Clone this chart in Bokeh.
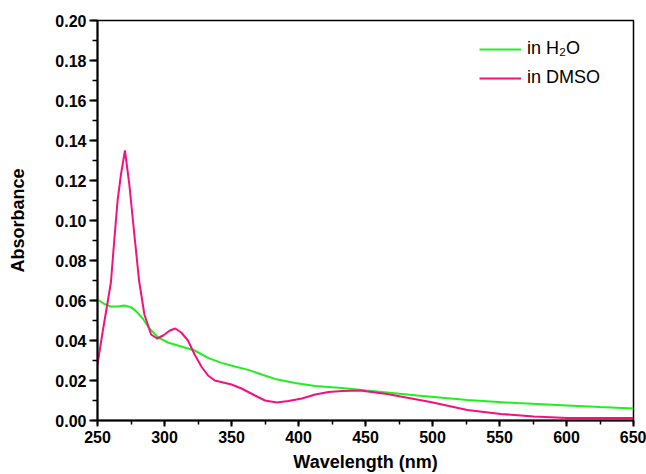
from bokeh.plotting import figure
from bokeh.models import Range1d, FixedTicker, NumeralTickFormatter, Legend, LegendItem
from bokeh.embed import file_html
from bokeh.resources import INLINE

# DMSO spectrum
dmso_x = [250, 253.75, 256, 260, 262.5, 265, 267.5, 270.5, 273.75, 277.5, 281, 285, 290,
          294.5, 299, 304, 308, 312.5, 317.5, 322.5, 327.5, 332.5, 337.5, 350, 357.5, 367.5,
          375, 383.75, 392.5, 402.5, 412.5, 422.5, 432.5, 446, 466, 498.5, 526, 551, 575.5,
          600.5, 625, 650]
dmso_y = [0.028, 0.044, 0.053, 0.069, 0.090, 0.110, 0.123, 0.135, 0.118, 0.093, 0.070, 0.053,
          0.043, 0.041, 0.0425, 0.045, 0.046, 0.044, 0.040, 0.033, 0.027, 0.0225, 0.020, 0.018,
          0.016, 0.0125, 0.010, 0.009, 0.0097, 0.011, 0.013, 0.0143, 0.0147, 0.015, 0.0133,
          0.0092, 0.0053, 0.0033, 0.002, 0.0012, 0.0012, 0.0013]

# H2O spectrum
h2o_x = [250, 255, 260, 265, 270, 275, 278.75, 283.75, 288.75, 295, 302.5, 312.5, 322.5,
         332.5, 342.5, 352.5, 362.5, 372.5, 382.5, 397.5, 412.5, 432.5, 451, 488.6, 526, 563,
         600.5, 625, 650]
h2o_y = [0.0605, 0.0583, 0.057, 0.057, 0.0575, 0.0567, 0.0547, 0.051, 0.046, 0.0417, 0.039,
         0.037, 0.035, 0.0313, 0.0288, 0.027, 0.0253, 0.023, 0.0208, 0.0187, 0.0173, 0.0163,
         0.015, 0.0125, 0.0103, 0.0087, 0.0075, 0.0067, 0.006]

x_ticks = [250, 300, 350, 400, 450, 500, 550, 600, 650]
y_ticks = [0.00, 0.02, 0.04, 0.06, 0.08, 0.10, 0.12, 0.14, 0.16, 0.18, 0.20]

p = figure(width=646, height=474, output_backend="svg", toolbar_location=None,
           x_range=Range1d(250, 650), y_range=Range1d(0, 0.2),
           min_border_left=97, min_border_right=13, min_border_top=20, min_border_bottom=54)
p.grid.visible = False
p.outline_line_color = "black"
p.outline_line_width = 1.5

green = "#22ee22"
pink = "#f2127e"
r1 = p.line(h2o_x, h2o_y, line_color=green, line_width=2)
r2 = p.line(dmso_x, dmso_y, line_color=pink, line_width=2)

for ax in (p.xaxis[0], p.yaxis[0]):
    ax.axis_line_width = 2
    ax.major_tick_line_width = 2
    ax.minor_tick_line_width = 1.5
    ax.major_tick_in = 0
    ax.minor_tick_in = 0
    ax.major_label_text_font = "Liberation Sans"
    ax.major_label_text_font_style = "bold"
    ax.major_label_text_font_size = "16px"
    ax.major_label_text_color = "black"
    ax.axis_label_text_font = "Liberation Sans"
    ax.axis_label_text_font_style = "bold"
    ax.axis_label_text_font_size = "18px"
    ax.axis_label_text_color = "black"

p.xaxis.major_tick_out = 6
p.xaxis.minor_tick_out = 4
p.yaxis.major_tick_out = 8
p.yaxis.minor_tick_out = 5

p.xaxis.ticker = FixedTicker(ticks=x_ticks, minor_ticks=list(range(250, 651, 25)))
p.yaxis.ticker = FixedTicker(ticks=y_ticks, minor_ticks=[i / 100 for i in range(0, 21)])
p.yaxis.formatter = NumeralTickFormatter(format="0.00")
p.xaxis.axis_label = "Wavelength (nm)"
p.yaxis.axis_label = "Absorbance"
p.xaxis.major_label_standoff = 4
p.xaxis.axis_label_standoff = 6
p.yaxis.major_label_standoff = 3
p.yaxis.axis_label_standoff = 24

legend = Legend(items=[LegendItem(label="in H\u2082O", renderers=[r1]),
                       LegendItem(label="in DMSO", renderers=[r2])],
                location=(382, 332), border_line_alpha=0, background_fill_alpha=0,
                glyph_width=42, glyph_height=20, spacing=8, label_standoff=6,
                label_text_font="Liberation Sans", label_text_font_size="18px",
                label_text_color="black", padding=0, margin=0)
p.add_layout(legend)

open("out.html", "w").write(file_html(p, INLINE))
